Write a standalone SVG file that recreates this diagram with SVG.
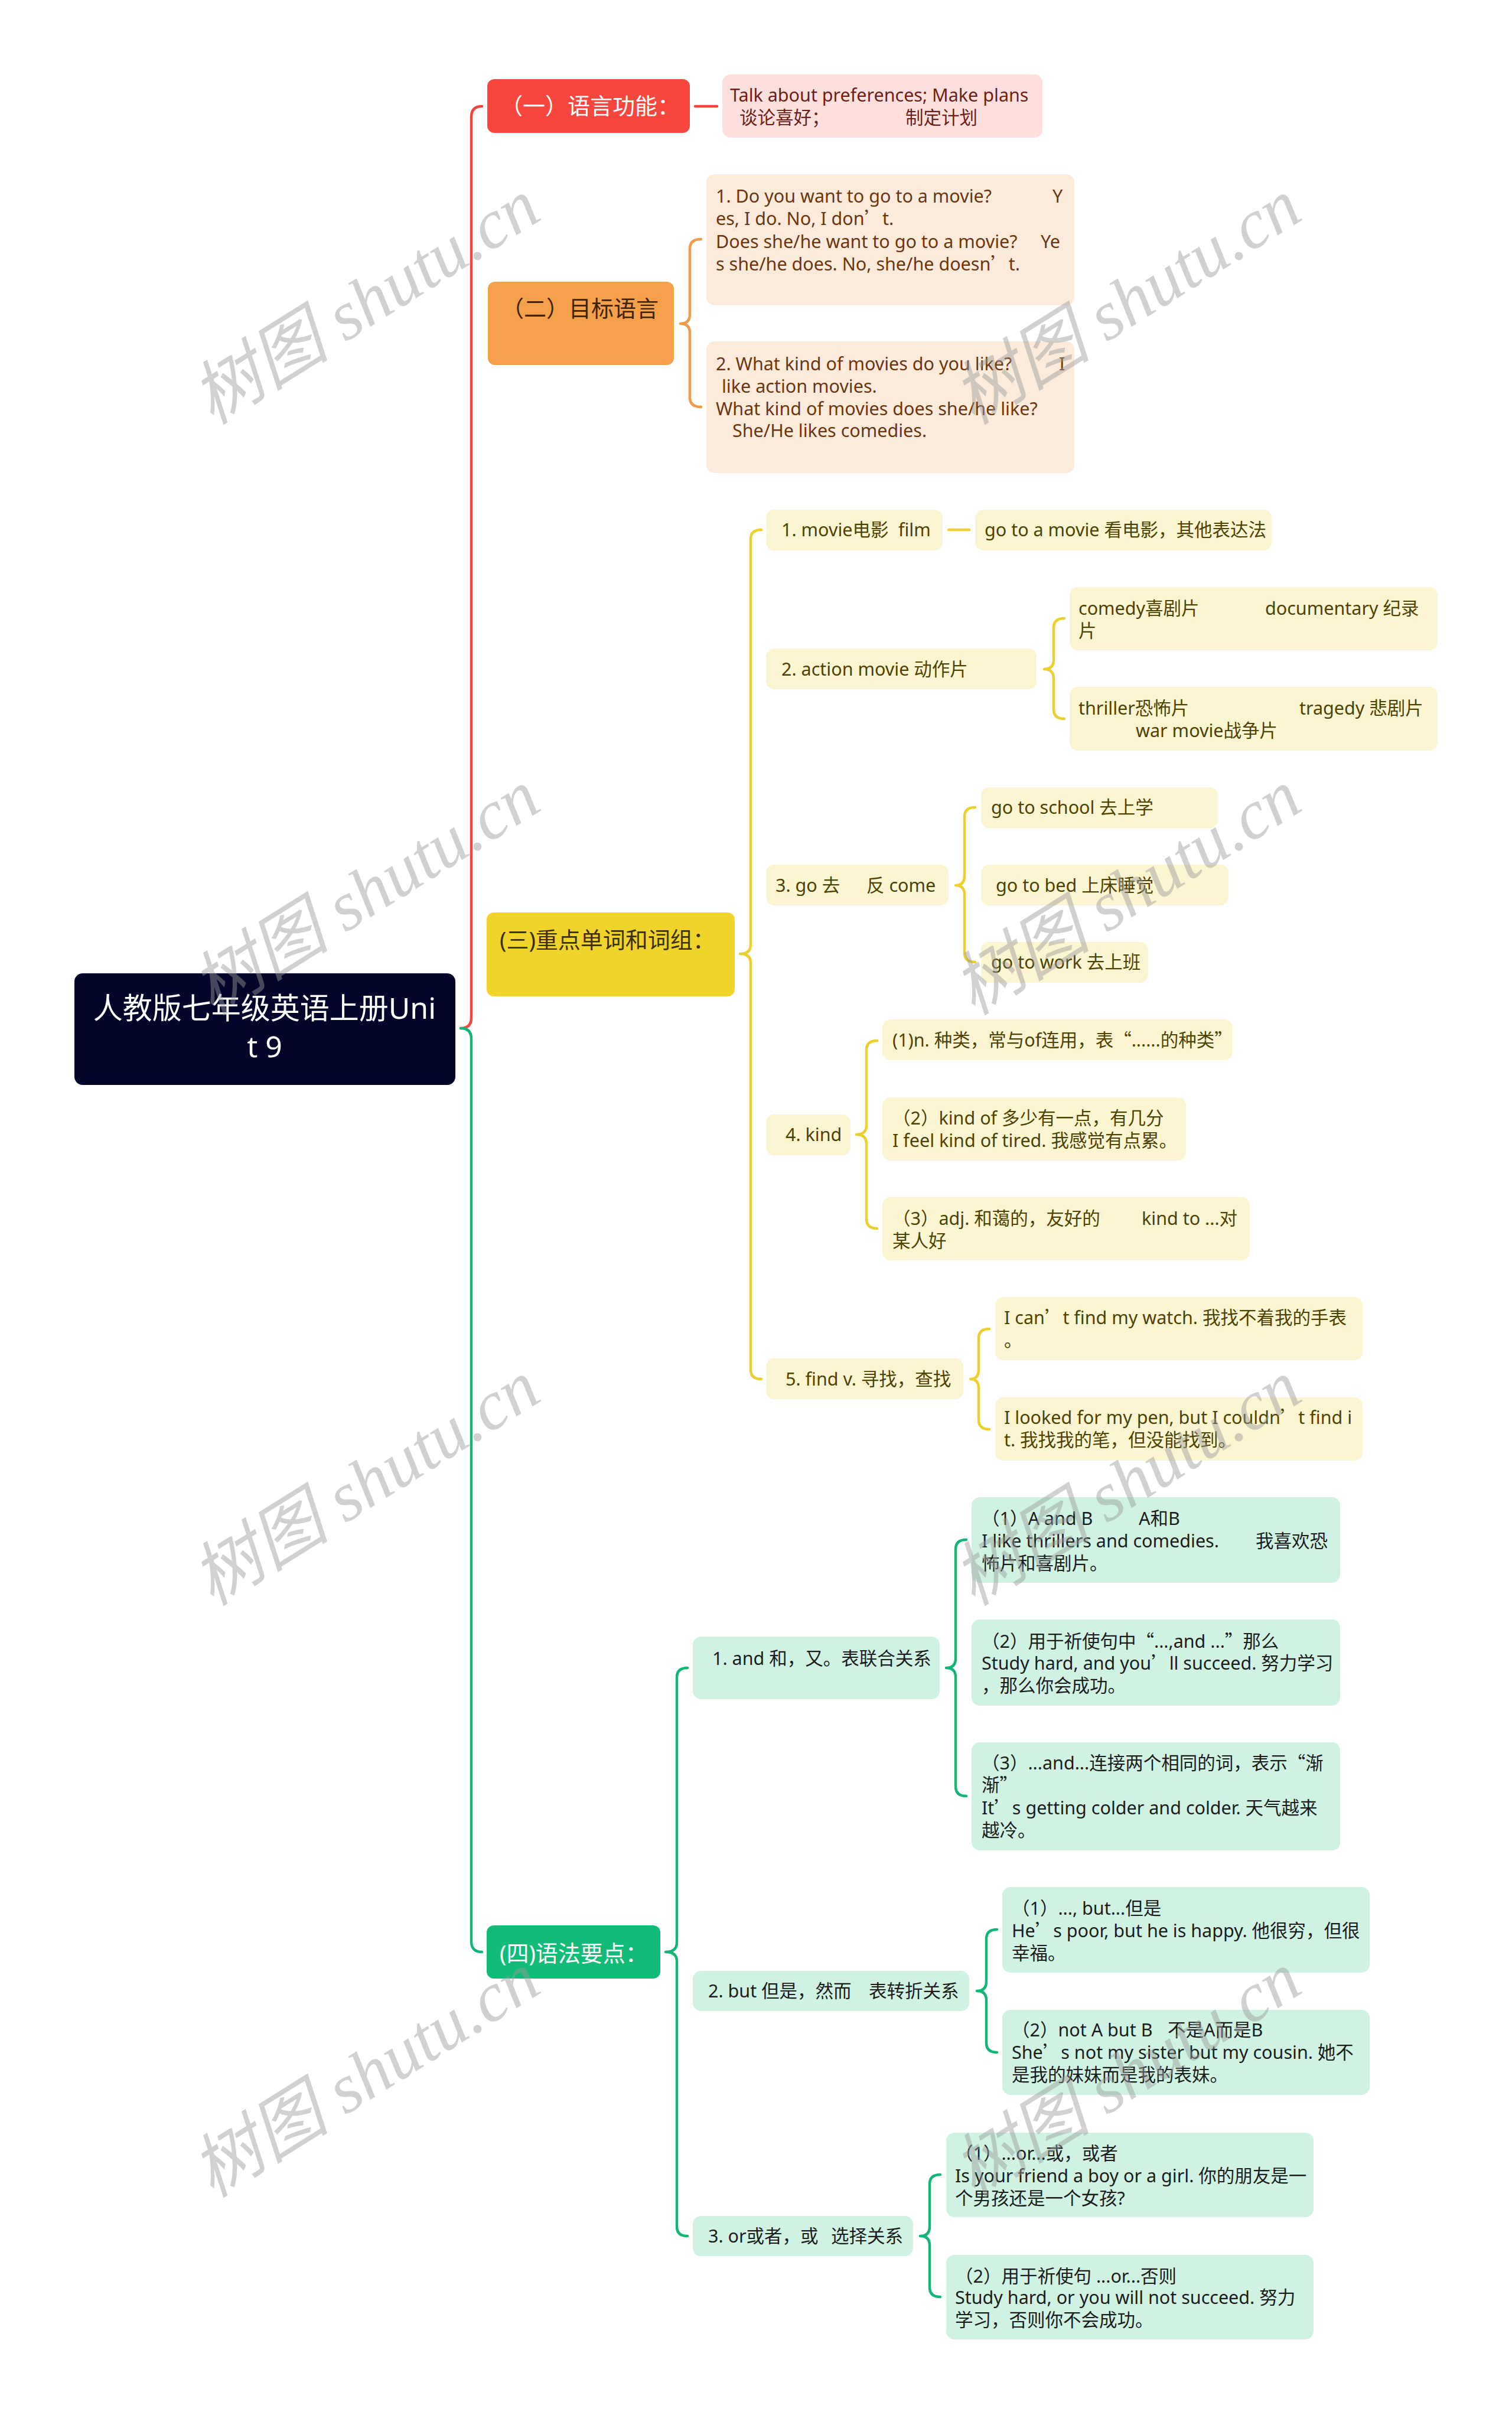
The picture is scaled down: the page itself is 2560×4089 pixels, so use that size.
<svg xmlns="http://www.w3.org/2000/svg" width="2560" height="4089" viewBox="0 0 2560 4089">
<style>
text{font-family:"Noto Sans","Noto Sans CJK SC",sans-serif;font-size:30.5px}
.q{font-family:"Noto Sans CJK SC",sans-serif}
.l1{font-size:38px}
.root{font-size:50px;fill:#fff;text-anchor:middle}
.w{fill:#fff}
.tp{fill:#6e1e14}
.to{fill:#3d2300}
.tpe{fill:#6b3510}
.ty{fill:#3a3000}
.tly{fill:#4d4200}
.tg{fill:#1c1c1c}
.bp{fill:#fde0de}
.bpe{fill:#fcebdb}
.bly{fill:#fcf5d2}
.bg{fill:#cff2e3}
.c{fill:none;stroke-width:4.5;stroke-linecap:round}
.cr{stroke:#f2463d}.co{stroke:#f29b48}.cy{stroke:#ecd02f}.cg{stroke:#14b677}
.wm{font-family:"Liberation Serif","Noto Sans CJK SC",serif;font-style:italic;font-size:118px;fill:#9a9a9a;opacity:.45;text-anchor:middle}
</style>
<rect width="2560" height="4089" fill="#fff"/>
<g id="connectors">
<path class="c cr" d="M780,1741 Q798,1741 798,1723 L798,198 Q798,180 816,180"/>
<path class="c cg" d="M780,1741 Q798,1741 798,1759 L798,3287 Q798,3305 816,3305"/>
<path class="c cr" d="M1177,180 H1214"/>
<path class="c co" d="M1152,548 Q1168,548 1168,532 V421 Q1168,405 1187,405 M1152,548 Q1168,548 1168,564 V673 Q1168,689 1187,689"/>
<path class="c cy" d="M1253,1615 Q1271,1615 1271,1599 V913 Q1271,897 1289,897 M1253,1615 Q1271,1615 1271,1631 V2319 Q1271,2335 1289,2335"/>
<path class="c cy" d="M1606,897 H1641"/>
<path class="c cy" d="M1768,1133 Q1784,1133 1784,1117 V1063 Q1784,1047 1802,1047 M1768,1133 Q1784,1133 1784,1149 V1201 Q1784,1217 1802,1217"/>
<path class="c cy" d="M1618,1499 Q1633,1499 1633,1483 V1383 Q1633,1367 1651,1367 M1618,1499 Q1633,1499 1633,1515 V1613 Q1633,1629 1651,1629"/>
<path class="c cy" d="M1450,1921 Q1467,1921 1467,1905 V1778 Q1467,1762 1485,1762 M1450,1921 Q1467,1921 1467,1937 V2064 Q1467,2080 1485,2080"/>
<path class="c cy" d="M1643,2335 Q1657,2335 1657,2319 V2266 Q1657,2250 1675,2250 M1643,2335 Q1657,2335 1657,2351 V2404 Q1657,2420 1675,2420"/>
<path class="c cg" d="M1127,3305 Q1146,3305 1146,3289 V2840 Q1146,2824 1164,2824 M1127,3305 Q1146,3305 1146,3321 V3770 Q1146,3786 1164,3786"/>
<path class="c cg" d="M1602,2824 Q1618,2824 1618,2808 V2623 Q1618,2607 1636,2607 M1602,2824 Q1618,2824 1618,2840 V3025 Q1618,3041 1636,3041"/>
<path class="c cg" d="M1654,3371 Q1670,3371 1670,3355 V3283 Q1670,3267 1688,3267 M1654,3371 Q1670,3371 1670,3387 V3459 Q1670,3475 1688,3475"/>
<path class="c cg" d="M1558,3786 Q1574,3786 1574,3770 V3698 Q1574,3682 1592,3682 M1558,3786 Q1574,3786 1574,3802 V3873 Q1574,3889 1592,3889"/>
</g>
<g id="root"><rect x="126" y="1648" width="645" height="189" rx="14" fill="#03052a"/>
<text class="root" x="448" y="1725">人教版七年级英语上册Uni</text><text class="root" x="448" y="1790">t 9</text></g>

<g id="n1"><rect x="825" y="134" width="343" height="91" rx="12" fill="#f7463d"/><text class="l1 w" x="847" y="193">（一）语言功能：</text></g>
<g id="n1a"><rect class="bp" x="1223" y="126" width="542" height="107" rx="14"/>
<text class="tp" x="1236" y="172">Talk about preferences; Make plans</text>
<text class="tp" y="210"><tspan x="1252">谈论喜好；</tspan><tspan x="1533">制定计划</tspan></text></g>

<g id="n2"><rect x="826" y="477" width="315" height="141" rx="12" fill="#f5a04b"/><text class="l1 to" x="849" y="536">（二）目标语言</text></g>
<g id="n2a"><rect class="bpe" x="1196" y="295" width="623" height="222" rx="14"/>
<text class="tpe" y="343"><tspan x="1212">1. Do you want to go to a movie?</tspan><tspan x="1782">Y</tspan></text>
<text class="tpe" x="1212" y="381">es, I do. No, I don<tspan class="q">’</tspan>t.</text>
<text class="tpe" y="420"><tspan x="1212">Does she/he want to go to a movie?</tspan><tspan x="1762">Ye</tspan></text>
<text class="tpe" x="1212" y="458">s she/he does. No, she/he doesn<tspan class="q">’</tspan>t.</text></g>
<g id="n2b"><rect class="bpe" x="1196" y="578" width="623" height="223" rx="14"/>
<text class="tpe" y="627"><tspan x="1212">2. What kind of movies do you like?</tspan><tspan x="1793">I</tspan></text>
<text class="tpe" x="1222" y="665">like action movies.</text>
<text class="tpe" x="1212" y="703">What kind of movies does she/he like?</text>
<text class="tpe" x="1240" y="740">She/He likes comedies.</text></g>

<g id="n3"><rect x="824" y="1545" width="420" height="142" rx="12" fill="#f0d42b"/><text class="l1 ty" x="846" y="1605">(三)重点单词和词组：</text></g>
<g id="y1"><rect class="bly" x="1297" y="863" width="299" height="69" rx="14"/><text class="tly" y="908"><tspan x="1323">1. movie电影</tspan><tspan x="1521">film</tspan></text></g>
<g id="y1a"><rect class="bly" x="1651" y="863" width="502" height="69" rx="14"/><text class="tly" x="1667" y="908">go to a movie 看电影，其他表达法</text></g>
<g id="y2"><rect class="bly" x="1297" y="1098" width="458" height="69" rx="14"/><text class="tly" x="1323" y="1144">2. action movie 动作片</text></g>
<g id="y2a"><rect class="bly" x="1811" y="994" width="623" height="107" rx="14"/>
<text class="tly" y="1041"><tspan x="1826">comedy喜剧片</tspan><tspan x="2142">documentary 纪录</tspan></text>
<text class="tly" x="1826" y="1079">片</text></g>
<g id="y2b"><rect class="bly" x="1811" y="1163" width="623" height="108" rx="14"/>
<text class="tly" y="1210"><tspan x="1826">thriller恐怖片</tspan><tspan x="2200">tragedy 悲剧片</tspan></text>
<text class="tly" x="1923" y="1248">war movie战争片</text></g>
<g id="y3"><rect class="bly" x="1297" y="1464" width="309" height="69" rx="14"/><text class="tly" y="1510"><tspan x="1313">3. go 去</tspan><tspan x="1467">反 come</tspan></text></g>
<g id="y3a"><rect class="bly" x="1661" y="1333" width="401" height="69" rx="14"/><text class="tly" x="1678" y="1378">go to school 去上学</text></g>
<g id="y3b"><rect class="bly" x="1661" y="1464" width="419" height="69" rx="14"/><text class="tly" x="1686" y="1510">go to bed 上床睡觉</text></g>
<g id="y3c"><rect class="bly" x="1661" y="1595" width="283" height="69" rx="14"/><text class="tly" x="1678" y="1640">go to work 去上班</text></g>
<g id="y4"><rect class="bly" x="1297" y="1887" width="143" height="69" rx="14"/><text class="tly" x="1330" y="1932">4. kind</text></g>
<g id="y4a"><rect class="bly" x="1494" y="1726" width="593" height="69" rx="14"/><text class="tly" x="1511" y="1772">(1)n. 种类，常与of连用，表<tspan class="q">“</tspan>......的种类<tspan class="q">”</tspan></text></g>
<g id="y4b"><rect class="bly" x="1494" y="1858" width="514" height="107" rx="14"/>
<text class="tly" x="1511" y="1904">（2）kind of 多少有一点，有几分</text>
<text class="tly" x="1511" y="1942">I feel kind of tired. 我感觉有点累。</text></g>
<g id="y4c"><rect class="bly" x="1494" y="2027" width="622" height="107" rx="14"/>
<text class="tly" y="2074"><tspan x="1511">（3）adj. 和蔼的，友好的</tspan><tspan x="1933">kind to ...对</tspan></text>
<text class="tly" x="1511" y="2112">某人好</text></g>
<g id="y5"><rect class="bly" x="1297" y="2300" width="334" height="69" rx="14"/><text class="tly" x="1330" y="2346">5. find v. 寻找，查找</text></g>
<g id="y5a"><rect class="bly" x="1685" y="2196" width="622" height="107" rx="14"/>
<text class="tly" x="1700" y="2242">I can<tspan class="q">’</tspan>t find my watch. 我找不着我的手表</text>
<text class="tly" x="1700" y="2280">。</text></g>
<g id="y5b"><rect class="bly" x="1685" y="2366" width="622" height="107" rx="14"/>
<text class="tly" x="1700" y="2411">I looked for my pen, but I couldn<tspan class="q">’</tspan>t find i</text>
<text class="tly" x="1700" y="2449">t. 我找我的笔，但没能找到。</text></g>

<g id="n4"><rect x="824" y="3260" width="294" height="90" rx="12" fill="#13bb79"/><text class="l1 w" x="846" y="3321">(四)语法要点：</text></g>
<g id="g1"><rect class="bg" x="1173" y="2771" width="418" height="106" rx="14"/><text class="tg" x="1206" y="2819">1. and 和，又。表联合关系</text></g>
<g id="g1a"><rect class="bg" x="1645" y="2535" width="624" height="145" rx="14"/>
<text class="tg" y="2582"><tspan x="1662">（1）A and B</tspan><tspan x="1928">A和B</tspan></text>
<text class="tg" y="2620"><tspan x="1662">I like thrillers and comedies.</tspan><tspan x="2126">我喜欢恐</tspan></text>
<text class="tg" x="1662" y="2658">怖片和喜剧片。</text></g>
<g id="g1b"><rect class="bg" x="1645" y="2742" width="624" height="146" rx="14"/>
<text class="tg" x="1662" y="2790">（2）用于祈使句中<tspan class="q">“</tspan>...,and ...<tspan class="q">”</tspan>那么</text>
<text class="tg" x="1662" y="2827">Study hard, and you<tspan class="q">’</tspan>ll succeed. 努力学习</text>
<text class="tg" x="1662" y="2865">，那么你会成功。</text></g>
<g id="g1c"><rect class="bg" x="1645" y="2950" width="624" height="183" rx="14"/>
<text class="tg" x="1662" y="2996">（3）...and...连接两个相同的词，表示<tspan class="q">“</tspan>渐</text>
<text class="tg" x="1662" y="3033">渐<tspan class="q">”</tspan></text>
<text class="tg" x="1662" y="3072">It<tspan class="q">’</tspan>s getting colder and colder. 天气越来</text>
<text class="tg" x="1662" y="3110">越冷。</text></g>
<g id="g2"><rect class="bg" x="1173" y="3337" width="468" height="68" rx="14"/><text class="tg" y="3382"><tspan x="1199">2. but 但是，然而</tspan><tspan x="1471">表转折关系</tspan></text></g>
<g id="g2a"><rect class="bg" x="1697" y="3195" width="622" height="145" rx="14"/>
<text class="tg" x="1713" y="3242">（1）..., but...但是</text>
<text class="tg" x="1713" y="3280">He<tspan class="q">’</tspan>s poor, but he is happy. 他很穷，但很</text>
<text class="tg" x="1713" y="3318">幸福。</text></g>
<g id="g2b"><rect class="bg" x="1697" y="3403" width="622" height="144" rx="14"/>
<text class="tg" y="3448"><tspan x="1713">（2）not A but B</tspan><tspan x="1977">不是A而是B</tspan></text>
<text class="tg" x="1713" y="3486">She<tspan class="q">’</tspan>s not my sister but my cousin. 她不</text>
<text class="tg" x="1713" y="3524">是我的妹妹而是我的表妹。</text></g>
<g id="g3"><rect class="bg" x="1173" y="3752" width="373" height="68" rx="14"/><text class="tg" y="3797"><tspan x="1199">3. or或者，或</tspan><tspan x="1407">选择关系</tspan></text></g>
<g id="g3a"><rect class="bg" x="1602" y="3611" width="622" height="143" rx="14"/>
<text class="tg" x="1617" y="3657">（1）...or...或，或者</text>
<text class="tg" x="1617" y="3695">Is your friend a boy or a girl. 你的朋友是一</text>
<text class="tg" x="1617" y="3733">个男孩还是一个女孩?</text></g>
<g id="g3b"><rect class="bg" x="1602" y="3818" width="622" height="143" rx="14"/>
<text class="tg" x="1617" y="3865">（2）用于祈使句 ...or...否则</text>
<text class="tg" x="1617" y="3901">Study hard, or you will not succeed. 努力</text>
<text class="tg" x="1617" y="3939">学习，否则你不会成功。</text></g>

<g id="watermarks">
<text class="wm" transform="translate(640,545) rotate(-32)">树图 shutu.cn</text>
<text class="wm" transform="translate(1929,545) rotate(-32)">树图 shutu.cn</text>
<text class="wm" transform="translate(640,1545) rotate(-32)">树图 shutu.cn</text>
<text class="wm" transform="translate(1929,1545) rotate(-32)">树图 shutu.cn</text>
<text class="wm" transform="translate(640,2545) rotate(-32)">树图 shutu.cn</text>
<text class="wm" transform="translate(1929,2545) rotate(-32)">树图 shutu.cn</text>
<text class="wm" transform="translate(640,3547) rotate(-32)">树图 shutu.cn</text>
<text class="wm" transform="translate(1929,3547) rotate(-32)">树图 shutu.cn</text>
</g>
</svg>
